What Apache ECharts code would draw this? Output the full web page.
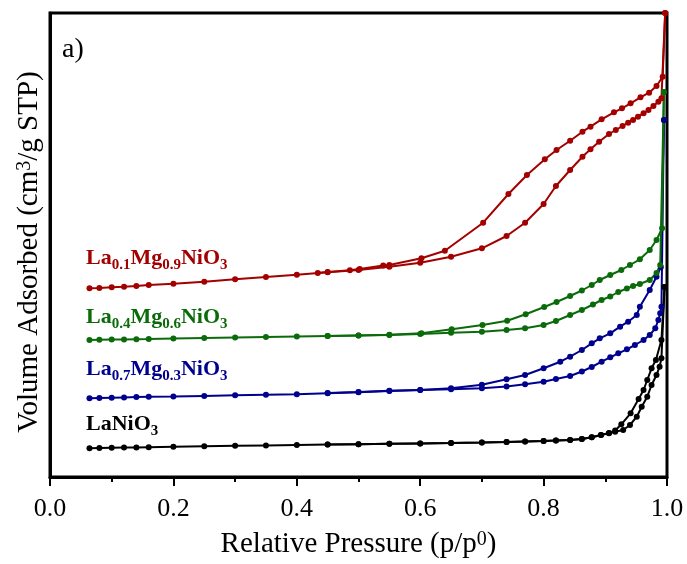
<!DOCTYPE html>
<html>
<head>
<meta charset="utf-8">
<script src="https://cdn.jsdelivr.net/npm/echarts@6/dist/echarts.min.js"></script>
<style>
html,body{margin:0;padding:0;background:#fff;}
#chart{width:687px;height:564px;}
</style>
</head>
<body>
<div id="chart"></div>
<script>
// ---- Data (relative pressure p/p0, volume adsorbed in arbitrary offset units) ----
const xTicks = [0.0, 0.2, 0.4, 0.6, 0.8, 1.0];

const laNiAdsP = [0.064,0.08,0.10,0.12,0.14,0.16,0.20,0.25,0.30,0.35,0.40,0.45,0.50,0.55,0.60,0.65,0.70,0.74,0.77,0.80,0.82,0.843,0.862,0.878,0.893,0.906,0.916,0.929,0.94,0.951,0.959,0.968,0.975,0.983,0.988,0.991,0.996];
const laNiAdsV = [28.7,29,29.2,29.4,29.6,29.8,30.2,30.7,31.2,31.6,32,32.4,32.8,33.2,33.6,34,34.5,35,35.5,36,36.5,37,38,39.7,42,43.7,45.3,47,52,60.3,70.3,80.3,92,102,110.3,118.7,190];
const laNiDesP = [0.996,0.991,0.982,0.975,0.968,0.962,0.954,0.941,0.926,0.916,0.906,0.893,0.878,0.862,0.843,0.82,0.80,0.77,0.74,0.70,0.65,0.60,0.55,0.50,0.45];
const laNiDesV = [190,137,117,108.7,97,87,78,63.7,52.7,46.5,44,42,39.7,38,37,36.5,36,35.5,35,34.5,34,33.6,33.2,32.8,32.4];

const la07AdsP = [0.064,0.08,0.10,0.12,0.14,0.16,0.20,0.25,0.30,0.35,0.40,0.45,0.50,0.55,0.60,0.65,0.70,0.74,0.77,0.80,0.82,0.843,0.862,0.878,0.894,0.908,0.921,0.935,0.948,0.962,0.972,0.981,0.986,0.989,0.991,0.995];
const la07AdsV = [78.7,79,79.3,79.6,79.9,80.2,80.5,81.1,81.7,82.2,82.7,83.7,84.7,86.0,87,87.8,88.7,90.5,92.7,95.3,98,101,105.5,110,115.3,119.7,123.7,127.7,132,137,142,148.7,157,163.7,170.3,357];
const la07DesP = [0.995,0.99,0.983,0.972,0.956,0.951,0.937,0.924,0.908,0.891,0.878,0.862,0.843,0.827,0.80,0.77,0.74,0.70,0.65,0.60,0.55,0.50,0.45];
const la07DesV = [357,210,200.3,187,170.3,162,155.3,150.3,143.7,138.7,133.7,127,120.3,115.3,108.7,102,97.7,92.3,88.7,87,86.3,84.9,84];

const la04AdsP = [0.064,0.08,0.10,0.12,0.14,0.16,0.20,0.25,0.30,0.35,0.40,0.45,0.50,0.55,0.60,0.65,0.70,0.74,0.77,0.80,0.82,0.843,0.862,0.88,0.894,0.908,0.921,0.935,0.945,0.956,0.972,0.983,0.989,0.995];
const la04AdsV = [137,137.2,137.4,137.6,137.8,138,138.5,139,139.5,140,140.5,141,141.5,142,143,144.3,145.3,147,148.7,152,156,162,167,172.5,177,180.5,185,188.5,191,193,197,204,212,385];
const la04DesP = [0.995,0.992,0.983,0.972,0.956,0.94,0.926,0.908,0.891,0.878,0.862,0.843,0.821,0.801,0.771,0.741,0.701,0.651,0.602,0.55,0.50,0.45];
const la04DesV = [385,248.7,237,227,217.7,212,207,202,197,192,186.5,181,175,170,162.7,156.3,152,147.7,143.7,142.2,141.6,141.1];

const la01AdsP = [0.064,0.08,0.10,0.12,0.14,0.16,0.20,0.25,0.30,0.35,0.40,0.45,0.50,0.55,0.60,0.65,0.70,0.74,0.77,0.80,0.82,0.843,0.863,0.876,0.89,0.906,0.917,0.928,0.937,0.945,0.953,0.962,0.97,0.978,0.986,0.991,0.997];
const la01AdsV = [188.7,189,189.7,190.3,191,192,193.3,195.3,197.7,200,202.3,204.7,207,210.3,214.3,220.3,228.7,241,254.3,273,291,307,320.3,327.7,335.3,343,347,351,354.3,357,360.3,363.7,367,371,375.3,378.7,464];
const la01DesP = [0.997,0.993,0.983,0.971,0.957,0.941,0.927,0.914,0.894,0.876,0.863,0.843,0.821,0.802,0.773,0.743,0.702,0.64,0.602,0.55,0.54,0.502,0.486,0.45,0.434];
const la01DesV = [464,400.3,391,384.3,379.7,373.7,368.7,364.7,357.7,350.3,345.3,336.3,327,317.7,302,283,254.3,226.3,218.7,212,211.5,208,206.8,205,204];

const colBlack = '#000000', colBlue = '#00008f', colGreen = '#0b6b0b', colRed = '#a30000';
const FONT = '"Liberation Serif", "Times New Roman", serif';

function pairs(p, v) { return p.map((x, i) => [x, v[i]]); }
function mkSeries(name, p, v, color) {
  return {
    name, type: 'line', data: pairs(p, v),
    symbol: 'circle', symbolSize: 6, showAllSymbol: true,
    lineStyle: { color, width: 2 }, itemStyle: { color },
    animation: false, silent: true
  };
}

function label(textRich, color, x, y) {
  return {
    type: 'text', x, y, z: 100,
    style: {
      text: textRich, fill: color, verticalAlign: 'middle', align: 'left',
      rich: {
        m: { fontFamily: FONT, fontWeight: 'bold', fontSize: 22, lineHeight: 26, fill: color, color: color, verticalAlign: 'top' },
        s: { fontFamily: FONT, fontWeight: 'bold', fontSize: 15, lineHeight: 15, fill: color, color: color, verticalAlign: 'bottom' }
      }
    }
  };
}

const titleRich = {
  n: { fontFamily: FONT, fontSize: 29, lineHeight: 32, fill: '#000', color: '#000', verticalAlign: 'top' },
  sup: { fontFamily: FONT, fontSize: 20, lineHeight: 14, fill: '#000', color: '#000', verticalAlign: 'top' }
};

const chart = echarts.init(document.getElementById('chart'), null, { renderer: 'canvas' });
chart.setOption({
  backgroundColor: '#fff',
  animation: false,
  grid: { left: 50, right: 20, top: 13, bottom: 87, show: true, borderColor: '#000', borderWidth: 3, backgroundColor: 'transparent' },
  xAxis: {
    type: 'value', min: 0, max: 1, interval: 0.2,
    name: '{n|Relative Pressure (p/p}{sup|0}{n|)}',
    nameLocation: 'middle', nameGap: 53,
    nameTextStyle: { rich: titleRich },
    axisLine: { show: true, lineStyle: { color: '#000', width: 3 } },
    axisTick: { show: true, inside: false, length: 9, lineStyle: { color: '#000', width: 2 } },
    minorTick: { show: true, splitNumber: 2, length: 5, lineStyle: { color: '#000', width: 2 } },
    splitLine: { show: false },
    axisLabel: { fontFamily: FONT, fontSize: 26, color: '#000', margin: 19, formatter: v => v.toFixed(1) }
  },
  yAxis: {
    type: 'value', min: 0, max: 464,
    axisLine: { show: true, lineStyle: { color: '#000', width: 3 } },
    axisTick: { show: false },
    axisLabel: { show: false },
    splitLine: { show: false }
  },
  graphic: [
    { type: 'text', x: 31, y: 252, rotation: Math.PI / 2, z: 100,
      style: { text: '{n|Volume Adsorbed (cm}{sup|3}{n|/g STP)}', rich: titleRich, align: 'center', verticalAlign: 'middle', fill: '#000' } },
    { type: 'text', x: 62, y: 50, style: { text: 'a)', fontFamily: FONT, fontSize: 28, fill: '#000', verticalAlign: 'middle' } },
    label('{m|La}{s|0.1}{m|Mg}{s|0.9}{m|NiO}{s|3}', colRed, 86, 260),
    label('{m|La}{s|0.4}{m|Mg}{s|0.6}{m|NiO}{s|3}', colGreen, 86, 319),
    label('{m|La}{s|0.7}{m|Mg}{s|0.3}{m|NiO}{s|3}', colBlue, 86, 371),
    label('{m|LaNiO}{s|3}', colBlack, 86, 426)
  ],
  series: [
    mkSeries('LaNiO3 ads', laNiAdsP, laNiAdsV, colBlack),
    mkSeries('LaNiO3 des', laNiDesP, laNiDesV, colBlack),
    mkSeries('La0.7 ads', la07AdsP, la07AdsV, colBlue),
    mkSeries('La0.7 des', la07DesP, la07DesV, colBlue),
    mkSeries('La0.4 ads', la04AdsP, la04AdsV, colGreen),
    mkSeries('La0.4 des', la04DesP, la04DesV, colGreen),
    mkSeries('La0.1 ads', la01AdsP, la01AdsV, colRed),
    mkSeries('La0.1 des', la01DesP, la01DesV, colRed)
  ]
});
</script>
</body>
</html>
